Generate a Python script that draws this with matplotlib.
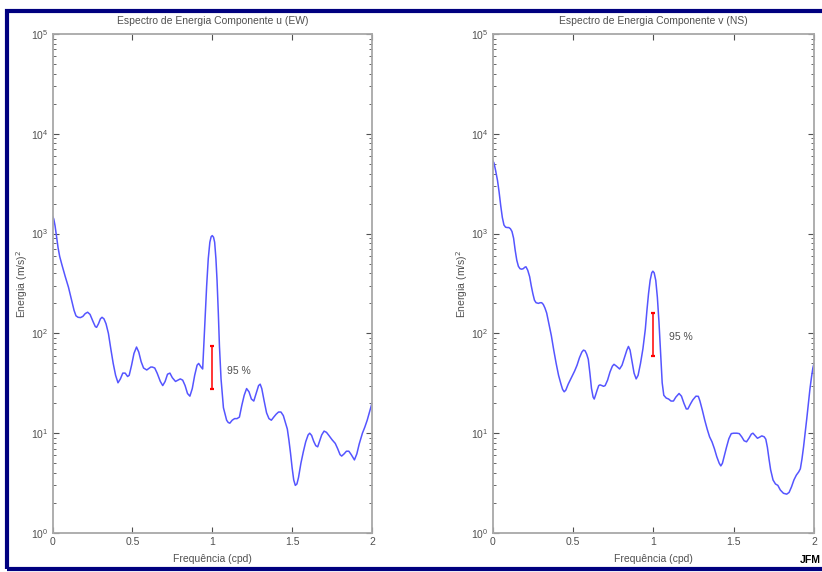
import matplotlib
matplotlib.use("Agg")
import matplotlib.pyplot as plt
from matplotlib.patches import Rectangle
from matplotlib.ticker import LogLocator, FixedLocator

plt.rcParams['font.family'] = ['Liberation Sans', 'DejaVu Sans']

# ---------------- data ----------------
# componente u (EW)
u_freq = [0.00, 0.008, 0.016, 0.025, 0.035, 0.045, 0.06, 0.08, 0.10, 0.12,
          0.135, 0.147, 0.16, 0.175, 0.19, 0.205, 0.22, 0.235, 0.255, 0.268,
          0.276, 0.288, 0.30, 0.31, 0.322, 0.335, 0.35, 0.365, 0.38, 0.395,
          0.41, 0.425, 0.44, 0.455, 0.47, 0.48, 0.495, 0.51, 0.526, 0.54,
          0.555, 0.57, 0.59, 0.615, 0.625, 0.64, 0.655, 0.675, 0.69, 0.705,
          0.72, 0.735, 0.75, 0.77, 0.785, 0.80, 0.815, 0.83, 0.845, 0.86,
          0.875, 0.89, 0.905, 0.915, 0.93, 0.94, 0.948, 0.955, 0.965, 0.975,
          0.985, 0.993, 1.00, 1.008, 1.015, 1.023, 1.03, 1.038, 1.045, 1.055,
          1.07, 1.09, 1.10, 1.11, 1.125, 1.14, 1.155, 1.17, 1.185, 1.20,
          1.215, 1.23, 1.245, 1.26, 1.275, 1.29, 1.30, 1.31, 1.325, 1.34,
          1.355, 1.37, 1.385, 1.40, 1.415, 1.43, 1.445, 1.46, 1.47, 1.48,
          1.49, 1.50, 1.51, 1.52, 1.53, 1.54, 1.555, 1.57, 1.585, 1.60,
          1.61, 1.622, 1.635, 1.648, 1.66, 1.672, 1.685, 1.70, 1.715, 1.73,
          1.75, 1.77, 1.785, 1.80, 1.81, 1.825, 1.84, 1.855, 1.87, 1.89,
          1.905, 1.92, 1.94, 1.955, 1.97, 1.985, 2.00]
u_energia = [1500, 1400, 1200, 950, 720, 590, 480, 370, 290, 215,
             170, 150, 145, 144, 148, 158, 163, 155, 130, 117,
             115, 125, 140, 145, 140, 125, 100, 70, 50, 38,
             32, 35, 40, 40, 37, 38, 48, 63, 73, 65,
             52, 45, 43, 46, 46, 45, 40, 33, 30, 33,
             39, 40, 36, 33, 34, 35, 34, 30, 25, 23.5,
             28, 38, 48, 50, 46, 44, 80, 140, 300, 560,
             820, 930, 955, 920, 820, 560, 340, 160, 75, 35,
             18, 13.5, 12.8, 12.6, 13.5, 14, 14, 14.5, 19, 24,
             28, 26, 22, 21, 25, 30, 31, 28, 21, 16,
             14, 13.5, 14.5, 15.5, 16.3, 16.3, 15, 12.5, 11, 8.5,
             6.3, 4.5, 3.4, 3.0, 3.1, 3.6, 5.0, 6.5, 8.2, 9.6,
             10, 9.5, 8.3, 7.5, 7.3, 8.3, 9.6, 10.5, 10.2, 9.5,
             8.6, 7.9, 7.0, 6.1, 5.9, 6.2, 6.6, 6.6, 6.1, 5.4,
             6.2, 7.8, 10, 11.5, 13.5, 16.5, 20]

# componente v (NS)
v_freq = [0.00, 0.008, 0.018, 0.03, 0.04, 0.05, 0.06, 0.07, 0.08, 0.09,
          0.10, 0.11, 0.12, 0.13, 0.14, 0.15, 0.16, 0.17, 0.18, 0.19,
          0.20, 0.207, 0.218, 0.23, 0.24, 0.25, 0.26, 0.27, 0.285, 0.295,
          0.305, 0.315, 0.325, 0.336, 0.35, 0.365, 0.38, 0.395, 0.41, 0.425,
          0.435, 0.445, 0.455, 0.47, 0.49, 0.51, 0.525, 0.54, 0.555, 0.565,
          0.575, 0.585, 0.595, 0.605, 0.615, 0.625, 0.632, 0.64, 0.65, 0.66,
          0.668, 0.68, 0.69, 0.70, 0.715, 0.73, 0.745, 0.755, 0.77, 0.79,
          0.805, 0.82, 0.835, 0.845, 0.855, 0.865, 0.88, 0.893, 0.905, 0.92,
          0.935, 0.95, 0.96, 0.97, 0.98, 0.99, 0.997, 1.005, 1.015, 1.025,
          1.035, 1.045, 1.055, 1.065, 1.08, 1.095, 1.11, 1.125, 1.14, 1.16,
          1.175, 1.19, 1.205, 1.215, 1.23, 1.245, 1.265, 1.28, 1.29, 1.305,
          1.32, 1.335, 1.35, 1.365, 1.38, 1.395, 1.41, 1.42, 1.43, 1.44,
          1.455, 1.47, 1.485, 1.50, 1.52, 1.535, 1.55, 1.565, 1.58, 1.595,
          1.61, 1.62, 1.635, 1.648, 1.66, 1.675, 1.69, 1.70, 1.71, 1.72,
          1.73, 1.745, 1.76, 1.775, 1.79, 1.81, 1.83, 1.845, 1.86, 1.875,
          1.89, 1.905, 1.915, 1.925, 1.935, 1.945, 1.955, 1.965, 1.975, 1.985,
          1.993, 2.00]
v_energia = [5400, 5100, 4300, 3400, 2600, 1900, 1450, 1220, 1160, 1150,
             1150, 1120, 1050, 900, 680, 540, 470, 445, 440, 445,
             460, 465, 430, 370, 300, 250, 215, 203, 200, 203,
             203, 195, 180, 160, 125, 95, 68, 50, 38, 31,
             27.5, 26, 27, 31, 36, 42, 48, 57, 65, 68,
             67, 62, 55, 40, 28, 23, 22, 24, 27, 30,
             30.5, 30, 29.5, 30, 34, 41, 47, 49, 47, 44,
             48, 57, 68, 74, 68, 55, 40, 35, 38, 50,
             70, 110, 170, 250, 340, 405, 420, 405, 340, 230,
             130, 65, 32, 24, 22.5, 22, 21, 21, 23, 25,
             23.5, 20, 17.5, 17.5, 19.5, 21.5, 23.5, 23.4, 21, 17,
             13.5, 11, 9.2, 8.2, 7.0, 5.8, 5.0, 4.7, 5.0, 5.8,
             7.2, 8.8, 9.9, 10, 10, 9.9, 9.2, 8.4, 8.2, 8.9,
             9.8, 10, 9.4, 8.9, 9.1, 9.4, 9.2, 8.7, 7.2, 5.5,
             4.3, 3.4, 3.1, 3.0, 2.7, 2.5, 2.45, 2.55, 2.9, 3.4,
             3.8, 4.1, 4.4, 5.5, 7.3, 10, 14, 20, 28, 37,
             45, 50]

# intervalo de confianca 95% em f = 1 cpd
u_ic = (27.5, 74)
v_ic = (60, 160)

titulos = ["Espectro de Energia Componente u (EW)",
           "Espectro de Energia Componente v (NS)"]
x_ticks = [0, 0.5, 1, 1.5, 2]

# ---------------- figura ----------------
W, H = 822, 572
fig = plt.figure(figsize=(W / 100, H / 100), dpi=100)
fig.patch.set_facecolor("white")

# moldura azul escura
fig.patches.append(Rectangle((6.5 / W, 3 / H), 1.05, 1 - 13.5 / H,
                             transform=fig.transFigure, fill=False,
                             edgecolor="#00007f", linewidth=3.0,
                             clip_on=False))

ax_l = fig.add_axes([52.5 / W, 1 - 533 / H, 319.5 / W, 499 / H])
ax_r = fig.add_axes([492.7 / W, 1 - 533 / H, 321.3 / W, 499 / H])

cinza = "#505050"
series = [(ax_l, u_freq, u_energia, u_ic, 1.09, 42),
          (ax_r, v_freq, v_energia, v_ic, 1.10, 92)]

for i, (ax, f, e, ic, tx, ty) in enumerate(series):
    ax.plot(f, e, color="#5555ff", linewidth=1.1)
    # barra do intervalo de confianca
    ax.plot([1, 1], list(ic), color="red", linewidth=1.1,
            marker="_", markersize=3.5, markeredgewidth=1.6)
    ax.text(tx, ty, "95 %", fontsize=7.5, color=cinza, va="center", ha="left")

    ax.set_yscale("log")
    ax.set_xlim(0, 2)
    ax.set_ylim(1, 1e5)
    ax.xaxis.set_major_locator(FixedLocator(x_ticks))
    ax.set_xticklabels(["0", "0.5", "1", "1.5", "2"])
    ax.yaxis.set_major_locator(LogLocator(base=10, numticks=10))
    ax.yaxis.set_minor_locator(LogLocator(base=10, subs=range(2, 10), numticks=20))

    ax.tick_params(which="both", direction="in", top=True, right=True,
                   colors=cinza, labelsize=7.5, pad=3)
    ax.tick_params(which="major", length=4, width=0.8)
    ax.tick_params(which="minor", length=2.5, width=0.6)
    for s in ax.spines.values():
        s.set_color("#a8a8a8")
        s.set_linewidth(1.3)

    ax.set_title(titulos[i], fontsize=7.5, color=cinza, pad=7)
    ax.set_xlabel("Frequência (cpd)", fontsize=7.5, color=cinza, labelpad=5)
    ax.set_ylabel("Energia (m/s)$^2$", fontsize=7.5, color=cinza)
    ax.yaxis.set_label_coords(-0.07, 0.5)

fig.text(800 / W, 1 - 560 / H, "JFM", fontsize=7.5, fontweight="bold",
         color="black", ha="left", va="center")

fig.savefig("out.png", dpi=100, facecolor="white")
